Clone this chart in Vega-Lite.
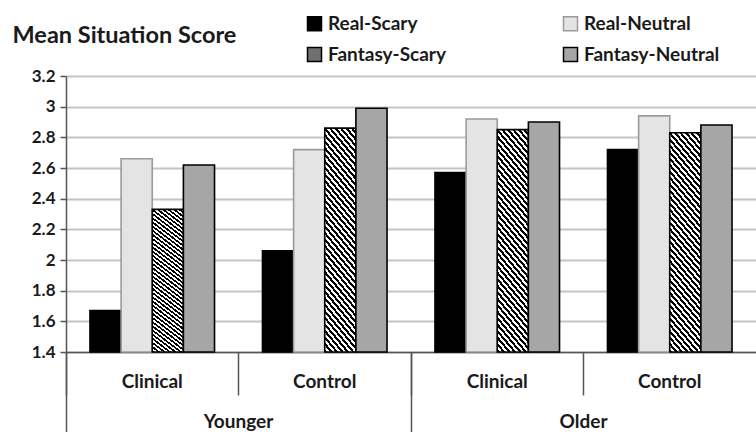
{
  "$schema": "https://vega.github.io/schema/vega-lite/v6.json",
  "width": 690,
  "height": 276,
  "autosize": {"type": "none"},
  "padding": {"left": 66, "top": 76, "right": 0, "bottom": 80},
  "background": "white",
  "data": {"values": [
    {"age": "Younger", "group": "Clinical", "cell": "Younger Clinical", "series": "Real-Scary", "score": 1.67},
    {"age": "Younger", "group": "Clinical", "cell": "Younger Clinical", "series": "Real-Neutral", "score": 2.66},
    {"age": "Younger", "group": "Clinical", "cell": "Younger Clinical", "series": "Fantasy-Scary", "score": 2.33},
    {"age": "Younger", "group": "Clinical", "cell": "Younger Clinical", "series": "Fantasy-Neutral", "score": 2.62},
    {"age": "Younger", "group": "Control", "cell": "Younger Control", "series": "Real-Scary", "score": 2.06},
    {"age": "Younger", "group": "Control", "cell": "Younger Control", "series": "Real-Neutral", "score": 2.72},
    {"age": "Younger", "group": "Control", "cell": "Younger Control", "series": "Fantasy-Scary", "score": 2.86},
    {"age": "Younger", "group": "Control", "cell": "Younger Control", "series": "Fantasy-Neutral", "score": 2.99},
    {"age": "Older", "group": "Clinical", "cell": "Older Clinical", "series": "Real-Scary", "score": 2.57},
    {"age": "Older", "group": "Clinical", "cell": "Older Clinical", "series": "Real-Neutral", "score": 2.92},
    {"age": "Older", "group": "Clinical", "cell": "Older Clinical", "series": "Fantasy-Scary", "score": 2.85},
    {"age": "Older", "group": "Clinical", "cell": "Older Clinical", "series": "Fantasy-Neutral", "score": 2.90},
    {"age": "Older", "group": "Control", "cell": "Older Control", "series": "Real-Scary", "score": 2.72},
    {"age": "Older", "group": "Control", "cell": "Older Control", "series": "Real-Neutral", "score": 2.94},
    {"age": "Older", "group": "Control", "cell": "Older Control", "series": "Fantasy-Scary", "score": 2.83},
    {"age": "Older", "group": "Control", "cell": "Older Control", "series": "Fantasy-Neutral", "score": 2.88}
  ]},
  "layer": [
    {
      "mark": {"type": "bar", "strokeWidth": 1.6},
      "encoding": {
        "x": {
          "field": "cell", "type": "nominal",
          "sort": ["Younger Clinical", "Younger Control", "Older Clinical", "Older Control"],
          "scale": {"type": "band", "paddingInner": 0, "paddingOuter": 0},
          "axis": {
            "orient": "bottom", "title": null, "bandPosition": 0,
            "labelExpr": "split(datum.label, ' ')[1]",
            "labelAngle": 0, "labelOffset": 0, "labelAlign": "center",
            "labelBaseline": "alphabetic", "labelPadding": -8,
            "labelFont": "Lato", "labelFontWeight": "bold", "labelFontSize": 19, "labelColor": "#1a1a1a",
            "tickSize": 43, "tickColor": "#555555", "tickWidth": 1.5,
            "domainColor": "#555555", "domainWidth": 1.5, "grid": false
          }
        },
        "xOffset": {
          "field": "series", "type": "nominal",
          "sort": ["Real-Scary", "Real-Neutral", "Fantasy-Scary", "Fantasy-Neutral"],
          "scale": {"paddingInner": 0, "paddingOuter": 0.77}
        },
        "y": {
          "field": "score", "type": "quantitative",
          "scale": {"domain": [1.4, 3.2], "nice": false, "zero": false},
          "axis": {
            "values": [1.4, 1.6, 1.8, 2, 2.2, 2.4, 2.6, 2.8, 3, 3.2],
            "format": "~g",
            "title": "Mean Situation Score",
            "titleAngle": 0, "titleAlign": "left", "titleBaseline": "alphabetic",
            "titleX": -54, "titleY": -34,
            "titleFont": "Lato", "titleFontWeight": "bold", "titleFontSize": 23.5, "titleColor": "#1a1a1a",
            "labelFont": "Lato", "labelFontWeight": "bold", "labelFontSize": 17, "labelColor": "#1a1a1a",
            "labelPadding": 5, "tickSize": 6, "tickColor": "#555555", "tickWidth": 1.5,
            "domainColor": "#555555", "domainWidth": 1.5,
            "grid": true, "gridColor": "#c4c4c4", "gridWidth": 2
          }
        },
        "y2": {"datum": 1.4},
        "fill": {
          "field": "series", "type": "nominal",
          "scale": {
            "domain": ["Real-Scary", "Real-Neutral", "Fantasy-Scary", "Fantasy-Neutral"],
            "range": ["#000000", "#e4e4e4", "#707070", "#a6a6a6"]
          },
          "legend": {
            "title": null, "orient": "none", "legendX": 239, "legendY": -62, "direction": "horizontal",
            "columns": 2, "columnPadding": 114, "rowPadding": 10, "padding": 0,
            "symbolType": "square", "symbolSize": 196, "symbolStrokeWidth": 1.5,
            "labelFont": "Lato", "labelFontWeight": "bold", "labelFontSize": 19, "labelColor": "#1a1a1a",
            "labelOffset": 4
          },
          "condition": {
            "test": "datum.series === 'Fantasy-Scary'",
            "value": {
              "gradient": "linear", "x1": 0, "y1": 1, "x2": 0.189, "y2": -0.135,
              "stops": [
                {"offset": 0, "color": "#000"}, {"offset": 0.0125, "color": "#000"}, {"offset": 0.0125, "color": "#fff"}, {"offset": 0.025, "color": "#fff"},
                {"offset": 0.025, "color": "#000"}, {"offset": 0.0375, "color": "#000"}, {"offset": 0.0375, "color": "#fff"}, {"offset": 0.05, "color": "#fff"},
                {"offset": 0.05, "color": "#000"}, {"offset": 0.0625, "color": "#000"}, {"offset": 0.0625, "color": "#fff"}, {"offset": 0.075, "color": "#fff"},
                {"offset": 0.075, "color": "#000"}, {"offset": 0.0875, "color": "#000"}, {"offset": 0.0875, "color": "#fff"}, {"offset": 0.1, "color": "#fff"},
                {"offset": 0.1, "color": "#000"}, {"offset": 0.1125, "color": "#000"}, {"offset": 0.1125, "color": "#fff"}, {"offset": 0.125, "color": "#fff"},
                {"offset": 0.125, "color": "#000"}, {"offset": 0.1375, "color": "#000"}, {"offset": 0.1375, "color": "#fff"}, {"offset": 0.15, "color": "#fff"},
                {"offset": 0.15, "color": "#000"}, {"offset": 0.1625, "color": "#000"}, {"offset": 0.1625, "color": "#fff"}, {"offset": 0.175, "color": "#fff"},
                {"offset": 0.175, "color": "#000"}, {"offset": 0.1875, "color": "#000"}, {"offset": 0.1875, "color": "#fff"}, {"offset": 0.2, "color": "#fff"},
                {"offset": 0.2, "color": "#000"}, {"offset": 0.2125, "color": "#000"}, {"offset": 0.2125, "color": "#fff"}, {"offset": 0.225, "color": "#fff"},
                {"offset": 0.225, "color": "#000"}, {"offset": 0.2375, "color": "#000"}, {"offset": 0.2375, "color": "#fff"}, {"offset": 0.25, "color": "#fff"},
                {"offset": 0.25, "color": "#000"}, {"offset": 0.2625, "color": "#000"}, {"offset": 0.2625, "color": "#fff"}, {"offset": 0.275, "color": "#fff"},
                {"offset": 0.275, "color": "#000"}, {"offset": 0.2875, "color": "#000"}, {"offset": 0.2875, "color": "#fff"}, {"offset": 0.3, "color": "#fff"},
                {"offset": 0.3, "color": "#000"}, {"offset": 0.3125, "color": "#000"}, {"offset": 0.3125, "color": "#fff"}, {"offset": 0.325, "color": "#fff"},
                {"offset": 0.325, "color": "#000"}, {"offset": 0.3375, "color": "#000"}, {"offset": 0.3375, "color": "#fff"}, {"offset": 0.35, "color": "#fff"},
                {"offset": 0.35, "color": "#000"}, {"offset": 0.3625, "color": "#000"}, {"offset": 0.3625, "color": "#fff"}, {"offset": 0.375, "color": "#fff"},
                {"offset": 0.375, "color": "#000"}, {"offset": 0.3875, "color": "#000"}, {"offset": 0.3875, "color": "#fff"}, {"offset": 0.4, "color": "#fff"},
                {"offset": 0.4, "color": "#000"}, {"offset": 0.4125, "color": "#000"}, {"offset": 0.4125, "color": "#fff"}, {"offset": 0.425, "color": "#fff"},
                {"offset": 0.425, "color": "#000"}, {"offset": 0.4375, "color": "#000"}, {"offset": 0.4375, "color": "#fff"}, {"offset": 0.45, "color": "#fff"},
                {"offset": 0.45, "color": "#000"}, {"offset": 0.4625, "color": "#000"}, {"offset": 0.4625, "color": "#fff"}, {"offset": 0.475, "color": "#fff"},
                {"offset": 0.475, "color": "#000"}, {"offset": 0.4875, "color": "#000"}, {"offset": 0.4875, "color": "#fff"}, {"offset": 0.5, "color": "#fff"},
                {"offset": 0.5, "color": "#000"}, {"offset": 0.5125, "color": "#000"}, {"offset": 0.5125, "color": "#fff"}, {"offset": 0.525, "color": "#fff"},
                {"offset": 0.525, "color": "#000"}, {"offset": 0.5375, "color": "#000"}, {"offset": 0.5375, "color": "#fff"}, {"offset": 0.55, "color": "#fff"},
                {"offset": 0.55, "color": "#000"}, {"offset": 0.5625, "color": "#000"}, {"offset": 0.5625, "color": "#fff"}, {"offset": 0.575, "color": "#fff"},
                {"offset": 0.575, "color": "#000"}, {"offset": 0.5875, "color": "#000"}, {"offset": 0.5875, "color": "#fff"}, {"offset": 0.6, "color": "#fff"},
                {"offset": 0.6, "color": "#000"}, {"offset": 0.6125, "color": "#000"}, {"offset": 0.6125, "color": "#fff"}, {"offset": 0.625, "color": "#fff"},
                {"offset": 0.625, "color": "#000"}, {"offset": 0.6375, "color": "#000"}, {"offset": 0.6375, "color": "#fff"}, {"offset": 0.65, "color": "#fff"},
                {"offset": 0.65, "color": "#000"}, {"offset": 0.6625, "color": "#000"}, {"offset": 0.6625, "color": "#fff"}, {"offset": 0.675, "color": "#fff"},
                {"offset": 0.675, "color": "#000"}, {"offset": 0.6875, "color": "#000"}, {"offset": 0.6875, "color": "#fff"}, {"offset": 0.7, "color": "#fff"},
                {"offset": 0.7, "color": "#000"}, {"offset": 0.7125, "color": "#000"}, {"offset": 0.7125, "color": "#fff"}, {"offset": 0.725, "color": "#fff"},
                {"offset": 0.725, "color": "#000"}, {"offset": 0.7375, "color": "#000"}, {"offset": 0.7375, "color": "#fff"}, {"offset": 0.75, "color": "#fff"},
                {"offset": 0.75, "color": "#000"}, {"offset": 0.7625, "color": "#000"}, {"offset": 0.7625, "color": "#fff"}, {"offset": 0.775, "color": "#fff"},
                {"offset": 0.775, "color": "#000"}, {"offset": 0.7875, "color": "#000"}, {"offset": 0.7875, "color": "#fff"}, {"offset": 0.8, "color": "#fff"},
                {"offset": 0.8, "color": "#000"}, {"offset": 0.8125, "color": "#000"}, {"offset": 0.8125, "color": "#fff"}, {"offset": 0.825, "color": "#fff"},
                {"offset": 0.825, "color": "#000"}, {"offset": 0.8375, "color": "#000"}, {"offset": 0.8375, "color": "#fff"}, {"offset": 0.85, "color": "#fff"},
                {"offset": 0.85, "color": "#000"}, {"offset": 0.8625, "color": "#000"}, {"offset": 0.8625, "color": "#fff"}, {"offset": 0.875, "color": "#fff"},
                {"offset": 0.875, "color": "#000"}, {"offset": 0.8875, "color": "#000"}, {"offset": 0.8875, "color": "#fff"}, {"offset": 0.9, "color": "#fff"},
                {"offset": 0.9, "color": "#000"}, {"offset": 0.9125, "color": "#000"}, {"offset": 0.9125, "color": "#fff"}, {"offset": 0.925, "color": "#fff"},
                {"offset": 0.925, "color": "#000"}, {"offset": 0.9375, "color": "#000"}, {"offset": 0.9375, "color": "#fff"}, {"offset": 0.95, "color": "#fff"},
                {"offset": 0.95, "color": "#000"}, {"offset": 0.9625, "color": "#000"}, {"offset": 0.9625, "color": "#fff"}, {"offset": 0.975, "color": "#fff"},
                {"offset": 0.975, "color": "#000"}, {"offset": 0.9875, "color": "#000"}, {"offset": 0.9875, "color": "#fff"}, {"offset": 1, "color": "#fff"}
              ]
            }
          }
        },
        "stroke": {
          "field": "series", "type": "nominal",
          "scale": {
            "domain": ["Real-Scary", "Real-Neutral", "Fantasy-Scary", "Fantasy-Neutral"],
            "range": ["#000000", "#9a9a9a", "#000000", "#000000"]
          },
          "legend": {
            "title": null, "orient": "none", "legendX": 239, "legendY": -62, "direction": "horizontal",
            "columns": 2, "columnPadding": 114, "rowPadding": 10, "padding": 0,
            "symbolType": "square", "symbolSize": 196, "symbolStrokeWidth": 1.5,
            "labelFont": "Lato", "labelFontWeight": "bold", "labelFontSize": 19, "labelColor": "#1a1a1a",
            "labelOffset": 4
          }
        }
      }
    },
    {
      "mark": {"type": "rule", "opacity": 0},
      "encoding": {
        "x": {
          "field": "age", "type": "nominal",
          "sort": ["Younger", "Older"],
          "scale": {"type": "band", "paddingInner": 0, "paddingOuter": 0},
          "axis": {
            "orient": "bottom", "title": null, "bandPosition": 0,
            "labelAngle": 0, "labelOffset": 0, "labelAlign": "center",
            "labelBaseline": "alphabetic", "labelPadding": -5,
            "labelFont": "Lato", "labelFontWeight": "bold", "labelFontSize": 19, "labelColor": "#1a1a1a",
            "tickSize": 80, "tickColor": "#555555", "tickWidth": 1.5,
            "domain": false, "grid": false
          }
        }
      }
    }
  ],
  "resolve": {"scale": {"x": "independent"}, "axis": {"x": "independent"}},
  "config": {"view": {"stroke": null}}
}
